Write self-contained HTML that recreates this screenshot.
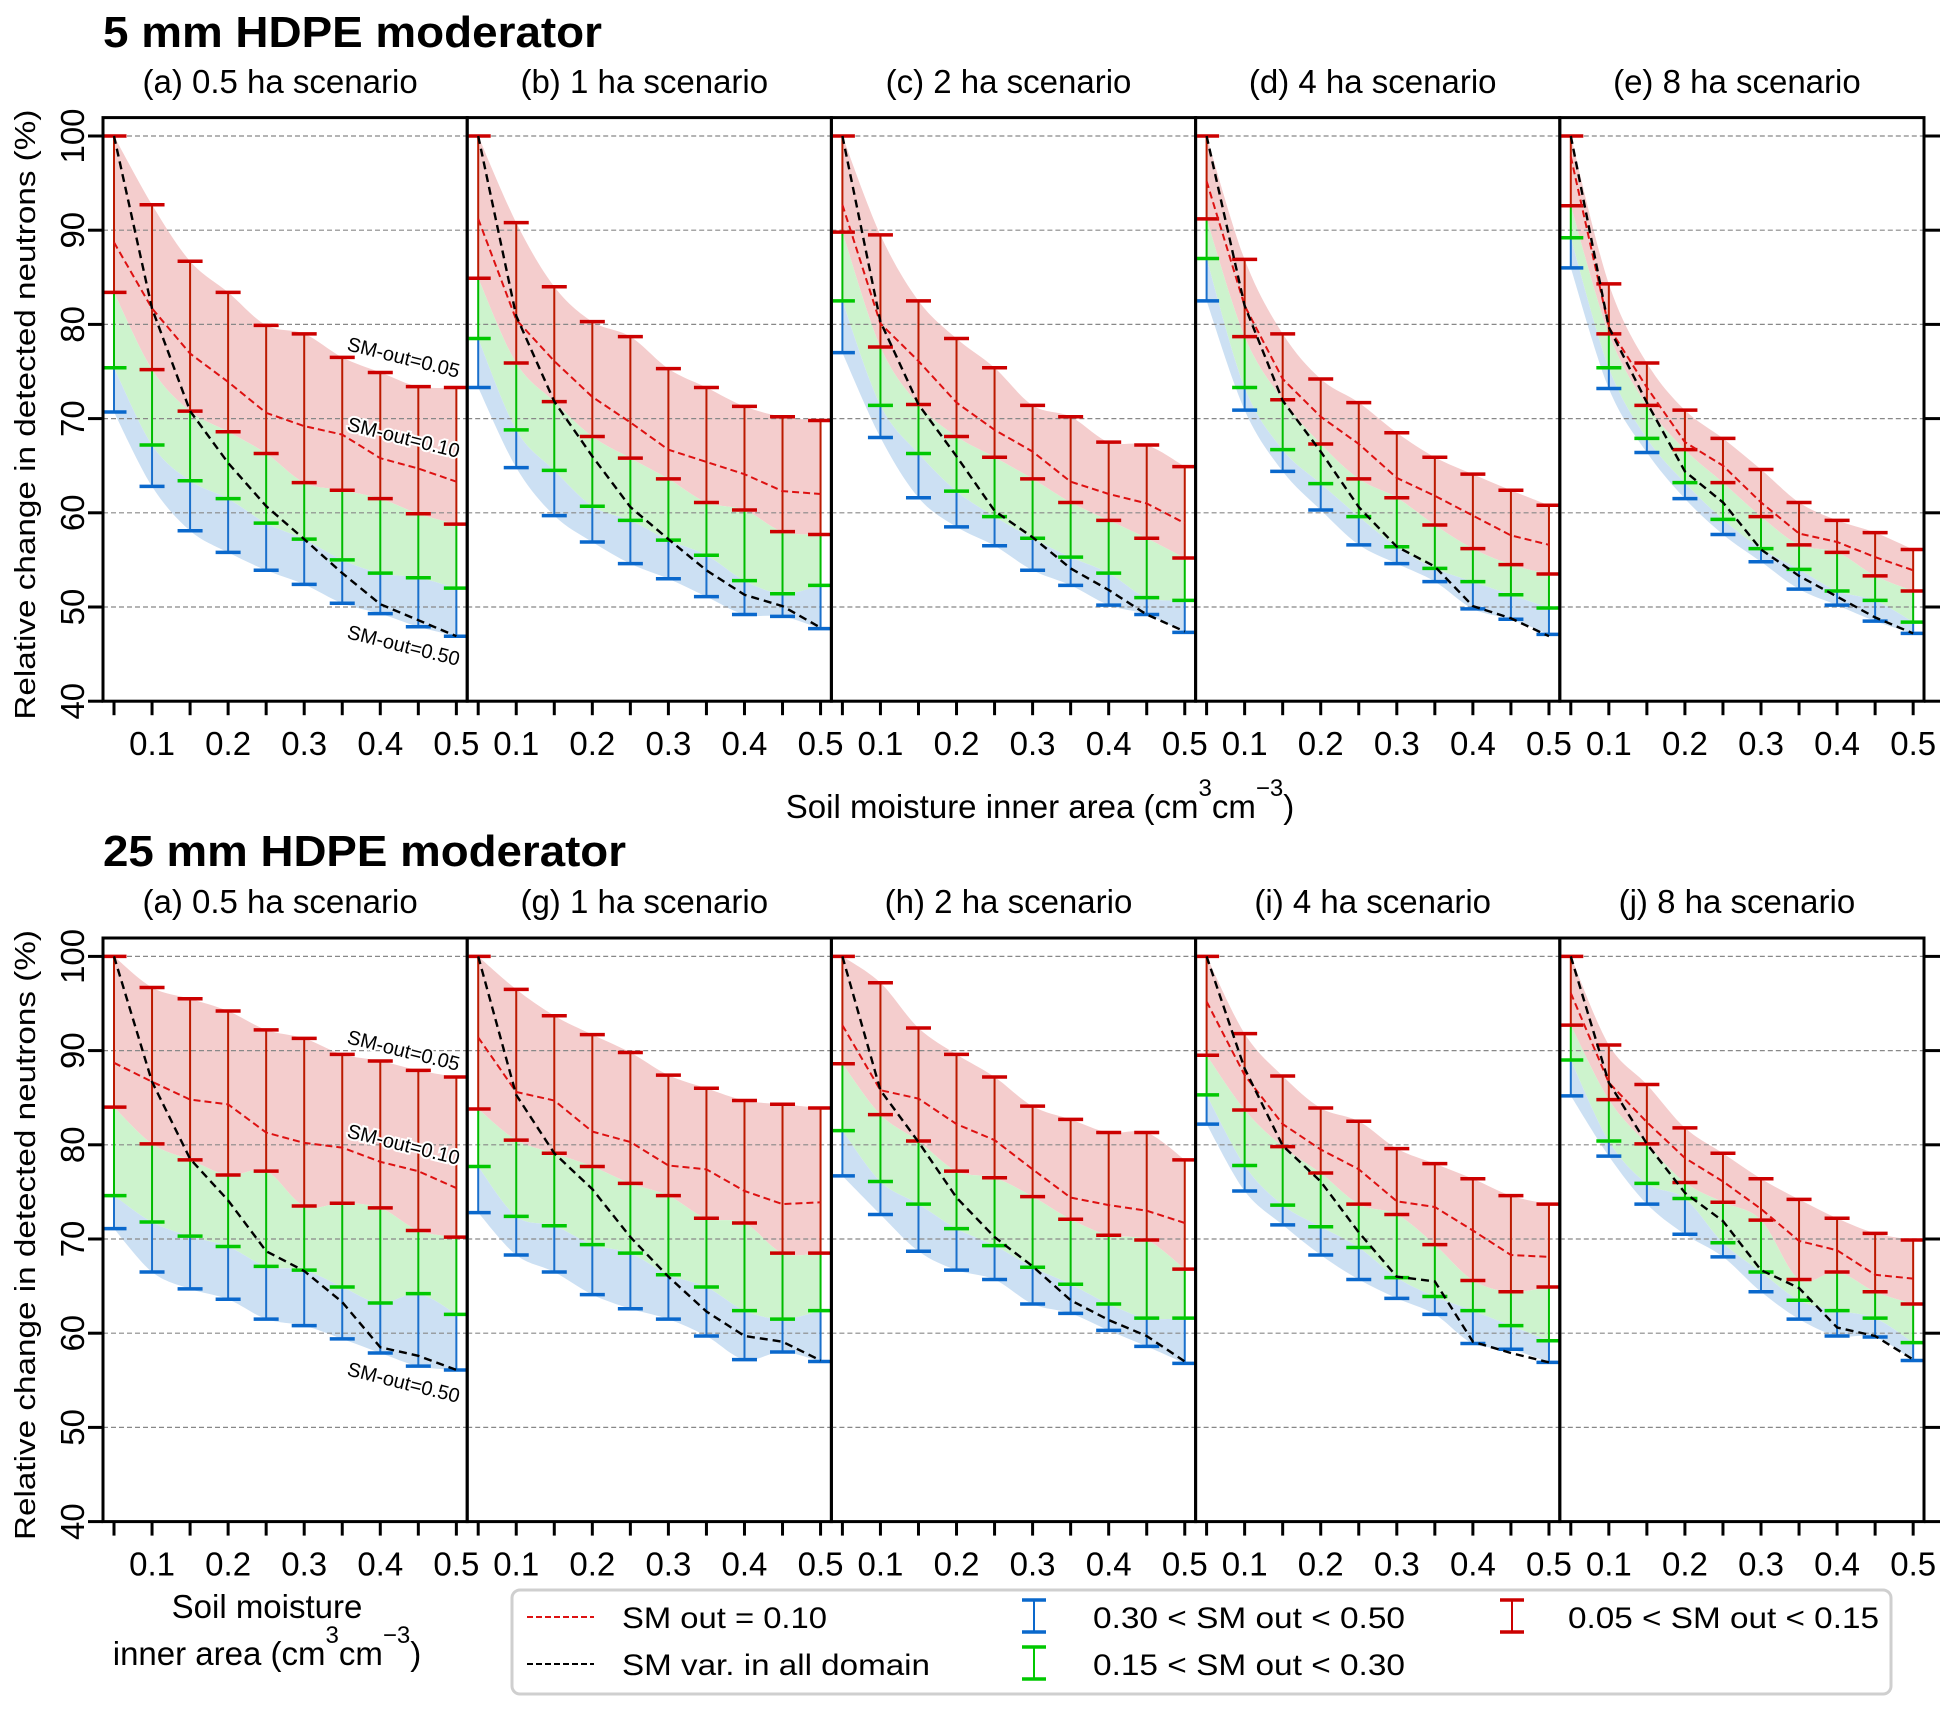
<!DOCTYPE html>
<html><head><meta charset="utf-8">
<style>
html,body{margin:0;padding:0;background:#fff;}
svg{display:block;font-family:"Liberation Sans",Arial,sans-serif;}
</style></head>
<body>
<svg id="s" width="1952" height="1715" viewBox="0 0 1952 1715" xmlns="http://www.w3.org/2000/svg"></svg>
<script>
var D=[
[[100,92.7,86.7,83.4,79.9,79.0,76.5,74.9,73.4,73.3],[83.4,75.2,70.8,68.6,66.3,63.2,62.4,61.5,59.9,58.8],[75.4,67.2,63.4,61.5,58.9,57.2,55.0,53.6,53.1,52.0],[70.7,62.8,58.1,55.8,53.9,52.4,50.4,49.3,47.9,46.9],[88.7,81.7,76.9,73.9,70.6,69.2,68.3,65.8,64.7,63.3],[100,81.7,70.8,65.3,60.7,57.2,53.6,50.3,48.6,46.9]],
[[100,90.8,84.0,80.3,78.7,75.3,73.3,71.3,70.2,69.8],[84.9,75.9,71.8,68.1,65.8,63.6,61.1,60.3,58.0,57.7],[78.5,68.8,64.5,60.7,59.2,57.1,55.5,52.8,51.4,52.3],[73.3,64.8,59.7,56.9,54.6,53.0,51.1,49.2,49.0,47.7],[91.2,80.5,76.1,72.3,69.6,66.7,65.4,64.1,62.3,62.0],[100,80.9,71.8,66.0,60.6,57.2,53.9,51.3,50.1,47.8]],
[[100,89.5,82.5,78.5,75.4,71.4,70.2,67.5,67.2,64.9],[89.8,77.6,71.5,68.1,65.9,63.6,61.1,59.2,57.3,55.2],[82.5,71.4,66.3,62.3,59.6,57.3,55.3,53.6,51.0,50.7],[77.0,68.0,61.6,58.5,56.5,53.9,52.3,50.2,49.2,47.3],[92.7,80.1,76.1,71.7,68.8,66.5,63.3,62.0,61.0,58.9],[100,80.3,71.5,66.0,60.2,57.4,54.1,51.8,49.2,47.4]],
[[100,86.9,79.0,74.2,71.7,68.5,65.9,64.1,62.4,60.8],[91.2,78.7,72.0,67.3,63.6,61.6,58.7,56.2,54.5,53.5],[87.0,73.3,66.7,63.1,59.6,56.4,54.1,52.7,51.3,49.9],[82.5,70.9,64.4,60.3,56.6,54.6,52.7,49.8,48.7,47.1],[95.2,82.0,74.2,70.2,67.3,63.7,61.8,59.7,57.6,56.6],[100,82.0,71.9,66.5,60.6,56.4,54.3,50.1,48.8,46.9]],
[[100,84.3,75.9,70.9,67.9,64.6,61.1,59.2,57.9,56.1],[92.6,79.0,71.4,66.7,63.2,59.6,56.6,55.8,53.3,51.7],[89.2,75.4,67.9,63.2,59.3,56.2,54.0,51.7,50.7,48.4],[86.0,73.2,66.4,61.5,57.7,54.8,51.9,50.2,48.5,47.2],[97.8,79.7,73.3,67.5,65.0,61.1,57.8,56.9,55.3,53.9],[100,79.7,71.7,64.4,61.1,56.1,53.3,51.1,48.9,47.2]],
[[100,96.7,95.5,94.2,92.2,91.3,89.6,88.9,87.9,87.2],[84.0,80.1,78.4,76.8,77.2,73.5,73.8,73.3,70.9,70.2],[74.6,71.8,70.3,69.2,67.1,66.7,64.9,63.2,64.2,62.0],[71.1,66.5,64.7,63.6,61.5,60.8,59.4,57.9,56.5,56.1],[88.7,86.7,84.8,84.3,81.3,80.2,79.7,78.2,77.2,75.4],[100,86.7,78.5,74.1,68.7,66.6,63.3,58.5,57.6,56.1]],
[[100,96.5,93.7,91.7,89.8,87.4,86.0,84.7,84.3,83.9],[83.8,80.5,79.1,77.7,75.9,74.6,72.2,71.7,68.5,68.5],[77.7,72.4,71.4,69.4,68.5,66.2,64.9,62.4,61.5,62.4],[72.8,68.3,66.5,64.1,62.6,61.5,59.7,57.2,58.0,57.0],[91.4,85.6,84.7,81.4,80.3,77.8,77.4,75.1,73.7,73.9],[100,85.3,79.1,75.3,70.2,66.0,62.3,59.7,59.1,57.1]],
[[100,97.2,92.4,89.6,87.2,84.1,82.7,81.3,81.3,78.4],[88.6,83.2,80.4,77.2,76.5,74.5,72.1,70.4,69.9,66.8],[81.5,76.1,73.7,71.1,69.3,67.0,65.2,63.1,61.6,61.6],[76.7,72.6,68.7,66.7,65.7,63.1,62.1,60.3,58.6,56.8],[92.7,85.8,84.9,82.2,80.5,77.4,74.4,73.6,73.0,71.7],[100,85.8,80.3,74.4,70.2,67.1,63.5,61.4,59.7,57.0]],
[[100,91.8,87.3,83.9,82.5,79.6,78.0,76.4,74.6,73.7],[89.5,83.7,79.8,77.0,73.7,72.6,69.4,65.6,64.4,64.9],[85.3,77.8,73.6,71.3,69.1,65.9,63.9,62.4,60.8,59.2],[82.2,75.1,71.5,68.3,65.7,63.7,62.0,58.9,58.3,56.9],[95.2,87.4,82.2,79.5,77.4,74.0,73.4,70.9,68.3,68.1],[100,88.1,79.9,76.1,70.7,66.0,65.5,59.1,57.9,56.9]],
[[100,90.6,86.4,81.8,79.1,76.4,74.2,72.2,70.6,69.9],[92.7,84.8,80.1,76.0,73.9,72.0,65.7,66.5,64.4,63.1],[89.0,80.4,75.9,74.3,69.6,66.5,63.5,62.4,61.6,59.0],[85.2,78.8,73.7,70.5,68.1,64.4,61.5,59.7,59.6,57.1],[96.1,86.6,82.4,78.6,76.1,73.2,69.8,68.8,66.2,65.8],[100,86.6,80.1,74.9,71.9,66.7,64.8,60.6,59.7,57.2]]
];
var PW=364.2, L0=103, TOPS=[117.6,938];
function X(p,i){return L0+p*PW+11+i*38.04;}
function Y(r,v){return TOPS[r]+18.4+(100-v)*9.42;}
var o=[];
function smooth(pts){
  var s="";
  for(var i=0;i<pts.length-1;i++){
    var p0=pts[Math.max(0,i-1)],p1=pts[i],p2=pts[i+1],p3=pts[Math.min(pts.length-1,i+2)];
    var c1x=p1[0]+(p2[0]-p0[0])/6,c1y=p1[1]+(p2[1]-p0[1])/6,c2x=p2[0]-(p3[0]-p1[0])/6,c2y=p2[1]-(p3[1]-p1[1])/6;
    s+="C"+c1x.toFixed(1)+","+c1y.toFixed(1)+" "+c2x.toFixed(1)+","+c2y.toFixed(1)+" "+p2[0].toFixed(1)+","+p2[1].toFixed(1);
  }
  return s;
}
function band(p,r,a,b,col){
  var A=[],B=[];
  for(var i=0;i<10;i++){A.push([X(p,i),Y(r,a[i])]);B.push([X(p,i),Y(r,b[i])]);}
  B.reverse();
  var d="M"+A[0][0]+","+A[0][1]+smooth(A)+"L"+B[0][0]+","+B[0][1]+smooth(B)+"Z";
  o.push('<path d="'+d+'" fill="'+col+'"/>');
}
function poly(p,r,a,col,w,da){
  var s="";for(var i=0;i<10;i++)s+=(i?" ":"")+X(p,i).toFixed(1)+","+Y(r,a[i]).toFixed(1);
  o.push('<polyline points="'+s+'" fill="none" stroke="'+col+'" stroke-width="'+w+'" stroke-dasharray="'+da+'"/>');
}
var RC="#cc0000",RB="#bb1a00",GC="#00c800",GB="#00bb00",BC="#0a68cc",BB="#1a70cc";
o.push('<defs>');
for(var r=0;r<2;r++)for(var p=0;p<5;p++){
  o.push('<clipPath id="c'+r+p+'"><rect x="'+(L0+p*PW)+'" y="'+TOPS[r]+'" width="'+PW+'" height="583.6"/></clipPath>');
}
o.push('</defs>');
for(var r=0;r<2;r++)for(var p=0;p<5;p++){
  var d=D[r*5+p], left=L0+p*PW;
  o.push('<g clip-path="url(#c'+r+p+')">');
  band(p,r,d[0],d[1],"#f4cdcd");
  band(p,r,d[1],d[2],"#cdf3cd");
  band(p,r,d[2],d[3],"#cce0f3");
  for(var v=50;v<=100;v+=10){var yy=Y(r,v).toFixed(1);o.push('<line x1="'+left+'" x2="'+(left+PW)+'" y1="'+yy+'" y2="'+yy+'" stroke="#888" stroke-width="1.2" stroke-dasharray="5,3"/>');}
  for(var i=0;i<10;i++){
    var x=X(p,i);
    function vl(a,b,c){o.push('<line x1="'+x+'" x2="'+x+'" y1="'+Y(r,a)+'" y2="'+Y(r,b)+'" stroke="'+c+'" stroke-width="2"/>');}
    function cap(a,c){var yy=Y(r,a);o.push('<line x1="'+(x-12.5)+'" x2="'+(x+12.5)+'" y1="'+yy+'" y2="'+yy+'" stroke="'+c+'" stroke-width="3.5"/>');}
    vl(d[2][i],d[3][i],BB);vl(d[1][i],d[2][i],GB);vl(d[0][i],d[1][i],RB);
    cap(d[3][i],BC);cap(d[2][i],GC);cap(d[1][i],RC);cap(d[0][i],RC);
  }
  poly(p,r,d[4],"#dd1111",2,"7,4");
  poly(p,r,d[5],"#000",2.4,"8,5");
  o.push('</g>');
  o.push('<rect x="'+left+'" y="'+TOPS[r]+'" width="'+PW+'" height="583.6" fill="none" stroke="#000" stroke-width="3"/>');
  var yb=TOPS[r]+583.6;
  for(var i=0;i<10;i++){var x=X(p,i);o.push('<line x1="'+x+'" x2="'+x+'" y1="'+yb+'" y2="'+(yb+14)+'" stroke="#000" stroke-width="3"/>');}
  var labs=["0.1","0.2","0.3","0.4","0.5"];
  for(var k=0;k<5;k++){o.push('<text x="'+X(p,2*k+1)+'" y="'+(yb+54)+'" font-size="33" text-anchor="middle">'+labs[k]+'</text>');}
}
for(var r=0;r<2;r++){
  for(var v=40;v<=100;v+=10){
    var yy=Y(r,v);
    o.push('<line x1="88" x2="103" y1="'+yy+'" y2="'+yy+'" stroke="#000" stroke-width="3"/>');
    o.push('<line x1="1924" x2="1940" y1="'+yy+'" y2="'+yy+'" stroke="#000" stroke-width="3"/>');
    o.push('<text transform="translate(84,'+yy+') rotate(-90)" font-size="33" text-anchor="middle">'+v+'</text>');
  }
  var cy=TOPS[r]+292;
  o.push('<text transform="translate(35,'+(cy+5)+') rotate(-90)" font-size="29" text-anchor="middle" textLength="610" lengthAdjust="spacingAndGlyphs">Relative change in detected neutrons (%)</text>');
  var ann=r==0?[["SM-out=0.05",358],["SM-out=0.10",438],["SM-out=0.50",646]]:[["SM-out=0.05",1051],["SM-out=0.10",1145],["SM-out=0.50",1383]];
  for(var k=0;k<3;k++){
    o.push('<text transform="translate(402,'+(ann[k][1]+6)+') rotate(14)" font-size="20" text-anchor="middle" stroke="#fff" stroke-width="4" paint-order="stroke" fill="#000">'+ann[k][0]+'</text>');
  }
}
o.push('<text x="103" y="47" font-size="44" font-weight="bold" textLength="499" lengthAdjust="spacingAndGlyphs">5 mm HDPE moderator</text>');
o.push('<text x="103" y="866" font-size="44" font-weight="bold" textLength="523" lengthAdjust="spacingAndGlyphs">25 mm HDPE moderator</text>');
var st=[["(a) 0.5 ha scenario","(b) 1 ha scenario","(c) 2 ha scenario","(d) 4 ha scenario","(e) 8 ha scenario"],["(a) 0.5 ha scenario","(g) 1 ha scenario","(h) 2 ha scenario","(i) 4 ha scenario","(j) 8 ha scenario"]];
for(var r=0;r<2;r++)for(var p=0;p<5;p++){
  o.push('<text x="'+(L0+p*PW+PW/2-5)+'" y="'+(r==0?93:913)+'" font-size="33" text-anchor="middle">'+st[r][p]+'</text>');
}
o.push('<text x="1040" y="818" font-size="33" text-anchor="middle">Soil moisture inner area (cm<tspan dy="-22" font-size="24">3</tspan><tspan dy="22">cm</tspan><tspan dy="-22" font-size="24">−3</tspan><tspan dy="22">)</tspan></text>');
o.push('<text x="267" y="1618" font-size="33" text-anchor="middle">Soil moisture</text>');
o.push('<text x="267" y="1665" font-size="33" text-anchor="middle">inner area (cm<tspan dy="-22" font-size="24">3</tspan><tspan dy="22">cm</tspan><tspan dy="-22" font-size="24">−3</tspan><tspan dy="22">)</tspan></text>');
o.push('<rect x="512" y="1590" width="1379" height="104" rx="8" fill="#fff" stroke="#cfcfcf" stroke-width="3"/>');
o.push('<line x1="527" x2="594" y1="1617" y2="1617" stroke="#dd1111" stroke-width="2" stroke-dasharray="6,3"/>');
o.push('<line x1="527" x2="594" y1="1664" y2="1664" stroke="#000" stroke-width="2" stroke-dasharray="6,3"/>');
function licon(x,y1,y2,c){o.push('<line x1="'+x+'" x2="'+x+'" y1="'+y1+'" y2="'+y2+'" stroke="'+c+'" stroke-width="2"/><line x1="'+(x-12)+'" x2="'+(x+12)+'" y1="'+y1+'" y2="'+y1+'" stroke="'+c+'" stroke-width="3.5"/><line x1="'+(x-12)+'" x2="'+(x+12)+'" y1="'+y2+'" y2="'+y2+'" stroke="'+c+'" stroke-width="3.5"/>');}
licon(1034,1600,1632,BC);licon(1034,1647,1679,GC);licon(1512,1600,1632,RC);
function lt(x,y,t,w){o.push('<text x="'+x+'" y="'+y+'" font-size="30" textLength="'+w+'" lengthAdjust="spacingAndGlyphs">'+t+'</text>');}
lt(622,1628,"SM out = 0.10",205);lt(622,1675,"SM var. in all domain",308);
lt(1093,1628,"0.30 &lt; SM out &lt; 0.50",312);lt(1093,1675,"0.15 &lt; SM out &lt; 0.30",312);
lt(1568,1628,"0.05 &lt; SM out &lt; 0.15",311);
document.getElementById("s").innerHTML=o.join("");
</script>
</body></html>
